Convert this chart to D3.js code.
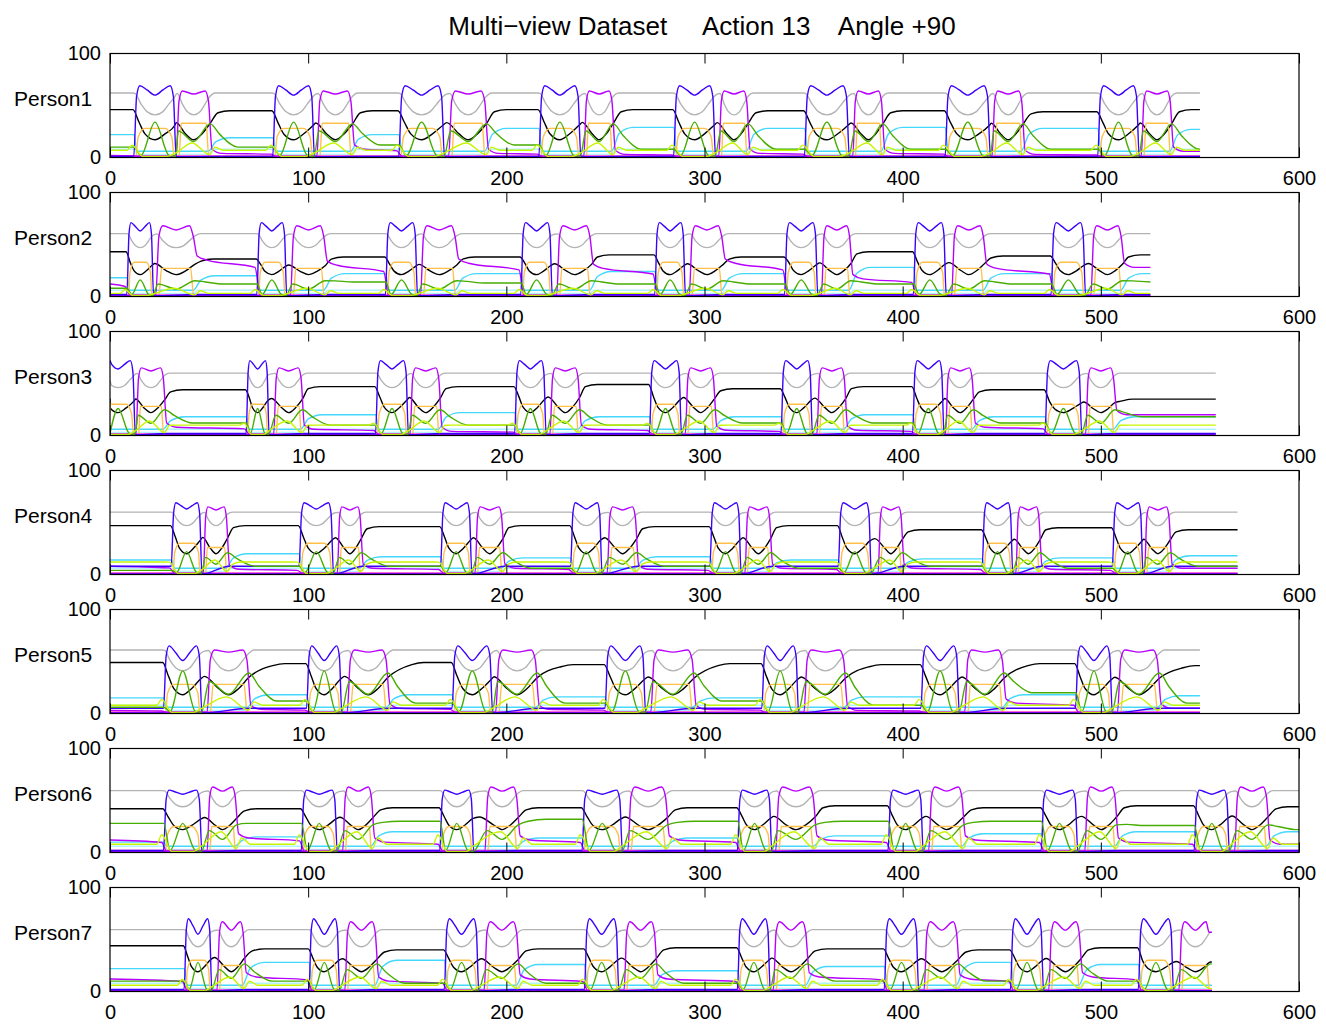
<!DOCTYPE html>
<html>
<head>
<meta charset="utf-8">
<script src="https://cdn.jsdelivr.net/npm/d3@7"></script>
<style>
  body { margin: 0; background: #fff; }
  svg { font-family: "Liberation Sans", Arial, Helvetica, sans-serif; }
</style>
</head>
<body>
<svg id="chart" width="1326" height="1032"></svg>
<script>
// ---- data (frame index 0..600, value 0..100) ----
const persons = ['Person1', 'Person2', 'Person3', 'Person4', 'Person5', 'Person6', 'Person7'];
const xTicks = [0, 100, 200, 300, 400, 500, 600];
const yTicks = [0, 100];
const ends = [550, 525, 558, 569, 550, 600, 556];

// bump edges (blue = first bump of a cycle, magenta = second)
const blueOn = [
  [12.6, 82.7, 146.3, 217, 285, 351, 422, 499],
  [9.1, 74.7, 139.6, 207.9, 275.5, 341, 406, 475.5],
  [-4, 69.3, 134.6, 204.8, 272.8, 339.2, 405.6, 472.4],
  [31.5, 96, 167.4, 233, 303.3, 368.1, 440.7, 506.4],
  [27.6, 99.8, 173.2, 250.4, 329.5, 409.8, 487.8],
  [27.6, 97.1, 167, 238.8, 317.2, 393.2, 470.5, 547.7],
  [38, 101, 169.3, 240, 317.2, 391.3, 455, 519.5]
];
const blueOff = [
  [32.8, 102.6, 168.2, 237, 305, 372.5, 443.7, 518.8],
  [21.4, 88.6, 154.6, 222.6, 289.8, 356.6, 421.4, 491.7],
  [12.2, 79.7, 150, 219.5, 287.8, 353.9, 420.3, 489.8],
  [45.8, 112.2, 182, 247.7, 317.9, 383.6, 455, 520.7],
  [45.8, 116.4, 192.5, 269.7, 346.9, 428, 505.2],
  [45.8, 114.1, 183, 258, 333.4, 409.8, 487.8, 564.3],
  [50.8, 115.3, 185.5, 256.2, 332.6, 407.5, 470.5, 536.1]
];
const magOn = [
  [34, 105, 171.5, 239.7, 307.8, 375.4, 445.7, 521],
  [23.7, 91.7, 157.3, 226, 292.9, 359.6, 425.3, 495.6],
  [13.7, 83.2, 152, 222.6, 290.9, 357.3, 422.2, 492.9],
  [47.7, 115.3, 184.8, 251.5, 321, 388.2, 457.7, 522.6],
  [49.6, 120.3, 195.2, 273.5, 350.8, 431.9, 509],
  [49.6, 118, 189.8, 261.9, 336.5, 413.7, 492.5, 568.1],
  [54.6, 119.1, 189.4, 260, 335.3, 411.4, 474.3, 540]
];
const magOff = [
  [50.5, 122.4, 190, 254, 322, 390, 460.8, 535.7],
  [43, 108.7, 175, 243, 309.5, 373.9, 441.5, 511],
  [27.6, 97.1, 166.6, 236.9, 305.2, 371.2, 435.7, 507.1],
  [59.3, 126.8, 198.3, 265.8, 333.4, 399.8, 469.3, 535],
  [70.1, 140.3, 215.6, 294.8, 371.2, 451.2, 529.5],
  [63.9, 132.6, 206, 281.3, 355.8, 430.7, 507.9, 584.4],
  [67.8, 134.6, 206, 275.5, 351.9, 428, 489.8, 555.4]
];

// levels per person
const blueTop   = [69, 71, 72, 69, 65, 60, 70];
const blueDip   = [60, 63, 64, 63, 51, 56, 55];
const blueGap   = [1, 2, 2, 8, 5, 2, 2];
const magTop    = [64, 68, 65, 65, 61, 63, 67];
const magDip    = [61, 64, 62, 62, 59, 59, 59];
const grayLevel = [62, 60.5, 60, 60, 61, 59.5, 59.5];
const grayArc   = [41, 47, 46, 47, 41, 44, 43];
const blackLow  = [17, 21, 22, 20, 18, 22, 19];
const blackRise = [4, 3, 3, 3, 12, 4, 4];
const greenPeak = [34, 16, 26, 22, 41, 28, 28];
const orangeBlue = [28, 33, 30, 30, 28, 25, 30];
const orangeMag  = [33, 27, 28, 26, 28, 25, 25];
const yellowPeak = [14, 8, 14, 14, 16, 20, 14];
const yellowGap  = [7, 3, 10, 12, 8, 8, 6];
const lightCyan  = [8, 6, 6, 6, 8, 6, 8];
const pinkLevel  = [1.5, 1.5, 1.5, 1.5, 1.5, 2, 1.5];
const violetLevel = [0.8, 0.8, 0.8, 0.8, 0.8, 1, 0.8];

// levels in the gaps between cycles (before first, after each cycle)
const blackGap = [
  [46, 45, 45, 46, 46, 45, 45, 44, 46],
  [43, 36, 38, 38, 40, 38, 43, 39, 40],
  [45, 44, 47, 47, 49, 45, 47, 44, 35],
  [47, 47, 46, 47, 46, 47, 43, 45, 43],
  [49, 48, 49, 47, 48, 47, 48, 46],
  [42, 42, 43, 43, 43, 45, 43, 45, 44],
  [44, 41, 40, 41, 42, 41, 40, 42, 30]
];
const cyanGap = [
  [22, 19, 22, 28, 29, 28, 29, 28, 27],
  [18, 20, 22, 22, 24, 22, 28, 22, 22],
  [15, 18, 20, 22, 18, 18, 20, 18, 18],
  [14, 20, 17, 16, 17, 14, 15, 16, 18],
  [15, 18, 18, 16, 15, 16, 18, 17],
  [10, 15, 20, 14, 14, 16, 18, 20, 20],
  [22, 28, 30, 26, 20, 24, 28, 26, 20]
];
const greenGap = [
  [10, 10, 12, 12, 8, 8, 8, 8, 8],
  [8, 12, 14, 13, 12, 12, 12, 12, 14],
  [10, 12, 10, 10, 10, 12, 12, 12, 18],
  [4, 8, 8, 6, 8, 6, 8, 6, 8],
  [6, 12, 10, 10, 12, 8, 20, 10],
  [28, 28, 30, 32, 30, 30, 30, 26, 22],
  [10, 10, 8, 8, 8, 10, 10, 10, 10]
];
const magGap = [
  [2, 4, 8, 4, 3, 4, 4, 3, 6],
  [12, 35, 30, 32, 27, 32, 17, 27, 28],
  [3, 8, 6, 4, 6, 5, 5, 8, 20],
  [8, 5, 6, 6, 5, 6, 6, 5, 6],
  [3, 4, 5, 4, 4, 3, 10, 5],
  [12, 14, 10, 12, 12, 12, 12, 10, 8],
  [12, 14, 10, 12, 12, 14, 12, 14, 12]
];

const colors = {
  gray: '#b3b3b3', black: '#000000', cyan: '#45d8ff', lightCyan: '#b0f2ff',
  orange: '#ffbf4a', pink: '#ff33cc', violet: '#7a00ff', magenta: '#b700ff',
  blue: '#3b00ff', green: '#47ad00', yellow: '#c8f500'
};

// ---- layout ----
const left = 110, right = 1299, panelTop0 = 53.5, panelStep = 139, panelH = 104;
const svg = d3.select('#chart');

svg.append('text')
  .attr('x', 702).attr('y', 35)
  .attr('text-anchor', 'middle')
  .attr('font-size', 26)
  .attr('xml:space', 'preserve')
  .style('white-space', 'pre')
  .text('Multi\u2212view Dataset     Action 13    Angle +90');

const x = d3.scaleLinear().domain([0, 600]).range([left, right]);

function cycles(p) {
  return blueOn[p].map((b, k) => ({ bOn: b, bOff: blueOff[p][k], mOn: magOn[p][k], mOff: magOff[p][k], k }));
}

// cut a key-point list to the recorded frames 0..end
function trim(pts, end) {
  pts.sort((a, b) => a[0] - b[0]);
  const out = [];
  let before = null;
  pts.forEach(d => {
    if (d[0] < 0) { before = d; return; }
    if (d[0] > end) return;
    if (out.length && d[0] - out[out.length - 1][0] < 0.05) return;
    out.push(d);
  });
  if (before && (!out.length || out[0][0] > 0)) out.unshift([0, before[1]]);
  if (out.length && out[out.length - 1][0] < end) out.push([end, out[out.length - 1][1]]);
  return out;
}

function bluePts(p) {
  const t = blueTop[p], d = blueDip[p], g = blueGap[p];
  const pts = [[-10, g]];
  cycles(p).forEach(c => {
    const w = c.bOff - c.bOn;
    pts.push([c.bOn - 0.6, g], [c.bOn + 0.04 * w, 0.85 * t], [c.bOn + 0.12 * w, t],
      [c.bOn + 0.3 * w, d + 0.55 * (t - d)], [c.bOn + 0.5 * w, d], [c.bOn + 0.7 * w, d + 0.55 * (t - d)],
      [c.bOn + 0.88 * w, t], [c.bOff - 0.04 * w, 0.85 * t], [c.bOff + 0.6, 0.5]);
    pts.push([c.mOff + 1, g], [c.mOff + 3, g]);
  });
  pts.push([700, g]);
  return trim(pts, ends[p]);
}

function magentaPts(p) {
  const t = magTop[p], d = magDip[p], gaps = magGap[p];
  const pts = [[-10, gaps[0]]];
  cycles(p).forEach(c => {
    const w = c.mOff - c.mOn, t0 = gaps[c.k], t1 = gaps[c.k + 1];
    pts.push([c.bOn - 1.5, 0.8 * t0], [c.bOn + 1, 1.2], [c.mOn - 0.6, 1.2],
      [c.mOn + 0.05 * w, 0.85 * t], [c.mOn + 0.15 * w, t], [c.mOn + 0.5 * w, d],
      [c.mOn + 0.85 * w, t], [c.mOff - 0.05 * w, 0.85 * t], [c.mOff + 1, t1 + 4], [c.mOff + 6, t1]);
  });
  pts.push([700, gaps[gaps.length - 1]]);
  return trim(pts, ends[p]);
}

function grayPts(p) {
  const G = grayLevel[p], D = G - grayArc[p];
  const pts = [[-10, G]];
  const arc = (a, b) => {
    const w = b - a;
    pts.push([a, G - 0.02 * D], [a + 0.15 * w, G - 0.5 * D], [a + 0.3 * w, G - 0.85 * D], [a + 0.5 * w, G - D],
      [a + 0.7 * w, G - 0.85 * D], [a + 0.85 * w, G - 0.5 * D], [b, G - 0.15 * D]);
  };
  cycles(p).forEach(c => {
    pts.push([c.bOn - 1, G]);
    arc(c.bOn, c.bOff);
    pts.push([(c.bOff + c.mOn) / 2, G - 0.05 * D]);
    arc(c.mOn, c.mOff);
    pts.push([c.mOff + 2.5, G]);
  });
  pts.push([700, G]);
  return trim(pts, ends[p]);
}

function blackPts(p) {
  const L = blackLow[p], gaps = blackGap[p], rise = blackRise[p];
  const pts = [[-10, gaps[0]]];
  cycles(p).forEach(c => {
    const B0 = gaps[c.k], B1 = gaps[c.k + 1], R = (B0 + B1) / 2 - L;
    const wb = c.bOff - c.bOn, wm = c.mOff - c.mOn;
    pts.push([c.bOn - 1, B0], [c.bOn + 0.1 * wb, L + 0.6 * R], [c.bOn + 0.25 * wb, L + 0.2 * R],
      [c.bOn + 0.5 * wb, L], [c.bOn + 0.75 * wb, L + 0.2 * R], [c.bOff, L + 0.5 * R],
      [(c.bOff + c.mOn) / 2, L + 0.58 * R], [c.mOn + 0.25 * wm, L + 0.2 * R], [c.mOn + 0.5 * wm, L],
      [c.mOn + 0.75 * wm, L + 0.2 * R], [c.mOff, L + 0.55 * R], [c.mOff + rise, B1 - 2], [c.mOff + rise + 6, B1]);
  });
  pts.push([700, gaps[gaps.length - 1]]);
  return trim(pts, ends[p]);
}

function cyanPts(p) {
  const gaps = cyanGap[p];
  const pts = [[-10, gaps[0]]];
  cycles(p).forEach(c => {
    const C0 = gaps[c.k], C1 = gaps[c.k + 1];
    pts.push([c.bOn - 0.5, C0], [c.bOn + 1, 6], [c.mOff - 1, 6], [c.mOff + 3, 0.8 * C1], [c.mOff + 10, C1]);
  });
  pts.push([700, gaps[gaps.length - 1]]);
  return trim(pts, ends[p]);
}

function lightCyanPts(p) {
  const l = lightCyan[p];
  const pts = [[-10, l]];
  cycles(p).forEach(c => {
    pts.push([c.bOn, l], [c.bOn + 1, 3], [c.mOff - 1, 3], [c.mOff + 1.5, l]);
  });
  pts.push([700, l]);
  return trim(pts, ends[p]);
}

function orangePts(p) {
  const OB = orangeBlue[p], OM = orangeMag[p];
  const pts = [[-10, 0.3]];
  cycles(p).forEach(c => {
    const wb = c.bOff - c.bOn, wm = c.mOff - c.mOn;
    pts.push([c.bOn + 0.02 * wb, 0.3], [c.bOn + 0.08 * wb, 0.7 * OB], [c.bOn + 0.25 * wb, OB],
      [c.bOn + 0.75 * wb, OB], [c.bOff - 0.08 * wb, 0.7 * OB], [c.bOff - 0.02 * wb, 0.3],
      [c.mOn + 0.05 * wm, 0.3], [c.mOn + 0.12 * wm, OM], [c.mOff - 0.12 * wm, OM], [c.mOff - 0.04 * wm, 0.3]);
  });
  pts.push([700, 0.3]);
  return trim(pts, ends[p]);
}

function greenPts(p) {
  const GP = greenPeak[p], gaps = greenGap[p];
  const pts = [[-10, gaps[0]]];
  cycles(p).forEach(c => {
    const g0 = gaps[c.k], g1 = gaps[c.k + 1];
    const wb = c.bOff - c.bOn, wm = c.mOff - c.mOn;
    pts.push([c.bOn - 0.5, g0], [c.bOn + 0.15 * wb, 2], [c.bOn + 0.5 * wb, GP], [c.bOff - 0.15 * wb, 2],
      [c.bOff + 0.3, 1], [c.mOn + 0.5, 0.75 * GP], [c.mOn + 0.5 * wm, 0.45 * GP], [c.mOff, 0.95 * GP],
      [c.mOff + 5, (GP + g1) / 2], [c.mOff + 14, g1]);
  });
  pts.push([700, gaps[gaps.length - 1]]);
  return trim(pts, ends[p]);
}

function yellowPts(p) {
  const YP = yellowPeak[p], yg = yellowGap[p];
  const pts = [[-10, yg]];
  cycles(p).forEach(c => {
    const wb = c.bOff - c.bOn, wm = c.mOff - c.mOn;
    pts.push([c.bOn - 4, yg], [c.bOn - 1.5, 0.85 * YP], [c.bOn + 0.2 * wb, 1], [c.bOff - 0.2 * wb, 1],
      [c.bOff + 0.3, 0.3 * YP], [c.mOn + 0.45 * wm, YP], [c.mOff - 0.2, 0.2 * YP],
      [c.mOff + 2.5, 0.7 * YP], [c.mOff + 7, yg]);
  });
  pts.push([700, yg]);
  return trim(pts, ends[p]);
}

function flatPts(level, p) {
  return [[0, level], [ends[p], level]];
}

const series = [
  { key: 'gray', build: grayPts },
  { key: 'black', build: blackPts },
  { key: 'lightCyan', build: lightCyanPts },
  { key: 'cyan', build: cyanPts },
  { key: 'orange', build: orangePts },
  { key: 'pink', build: p => flatPts(pinkLevel[p], p) },
  { key: 'violet', build: p => flatPts(violetLevel[p], p) },
  { key: 'magenta', build: magentaPts },
  { key: 'blue', build: bluePts },
  { key: 'green', build: greenPts },
  { key: 'yellow', build: yellowPts }
];

persons.forEach((name, p) => {
  const top = panelTop0 + p * panelStep;
  const y = d3.scaleLinear().domain([0, 100]).range([top + panelH, top]);
  const g = svg.append('g');

  g.append('clipPath').attr('id', 'clip' + p)
    .append('rect').attr('x', left).attr('y', top).attr('width', right - left).attr('height', panelH);

  const line = d3.line().x(d => x(d[0])).y(d => y(d[1])).curve(d3.curveMonotoneX);
  const lines = g.append('g').attr('clip-path', `url(#clip${p})`);
  series.forEach(s => {
    lines.append('path')
      .datum(s.build(p))
      .attr('d', line)
      .attr('fill', 'none')
      .attr('stroke', colors[s.key])
      .attr('stroke-width', 1.4)
      .attr('stroke-linejoin', 'round');
  });

  // box
  g.append('rect')
    .attr('x', left).attr('y', top).attr('width', right - left).attr('height', panelH)
    .attr('fill', 'none').attr('stroke', '#000').attr('stroke-width', 1.2);

  const xb = g.append('g').attr('transform', `translate(0,${top + panelH})`)
    .call(d3.axisBottom(x).tickValues(xTicks).tickSize(-10).tickPadding(13).tickFormat(d3.format('d')));
  const xt = g.append('g').attr('transform', `translate(0,${top})`)
    .call(d3.axisTop(x).tickValues(xTicks).tickSize(-10).tickFormat(''));
  const yl = g.append('g').attr('transform', `translate(${left},0)`)
    .call(d3.axisLeft(y).tickValues(yTicks).tickSize(0).tickPadding(9).tickFormat(d3.format('d')));
  [xb, xt, yl].forEach(a => {
    a.select('.domain').remove();
    a.selectAll('line').attr('stroke', '#000').attr('stroke-width', 1);
    a.selectAll('text').attr('font-size', 20).attr('fill', '#000')
      .attr('font-family', '"Liberation Sans", Arial, Helvetica, sans-serif');
  });

  g.append('text')
    .attr('x', 14).attr('y', top + 52)
    .attr('font-size', 21)
    .text(name);
});
</script>
</body>
</html>
